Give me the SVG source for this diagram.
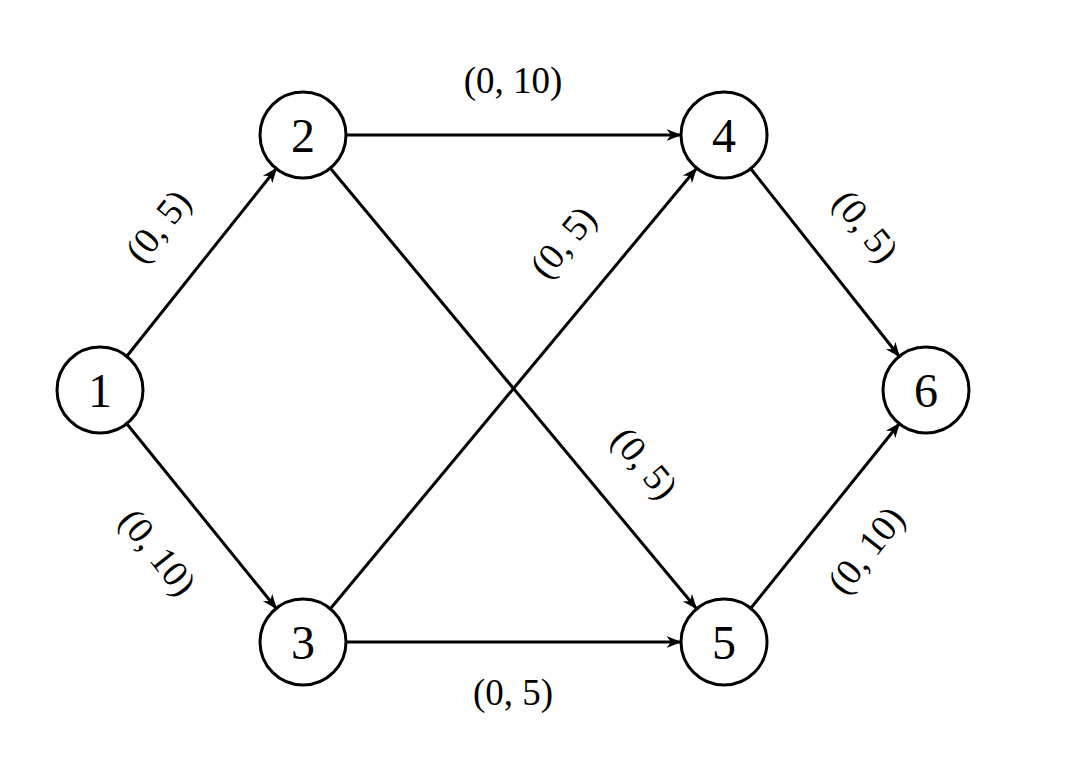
<svg xmlns="http://www.w3.org/2000/svg" width="1086" height="782" viewBox="0 0 1086 782">
<style>
circle{fill:#fff;stroke:#000;stroke-width:3}
.n{font-family:"Liberation Serif",serif;font-size:48px;text-anchor:middle;dominant-baseline:central}
.l{font-family:"Liberation Serif",serif;font-size:37px;text-anchor:middle;dominant-baseline:central}
line{stroke:#000;stroke-width:3;marker-end:url(#a)}
</style>
<defs><marker id="a" viewBox="0 0 10 10" refX="9" refY="5" markerWidth="5" markerHeight="5" orient="auto" markerUnits="strokeWidth"><path d="M0,1 L10,5 L0,9 L3,5 Z" fill="#000"/></marker></defs>
<rect width="1086" height="782" fill="#fff"/>
<g id="edges">
<line x1="127" y1="356" x2="276" y2="169"/>
<line x1="127" y1="424" x2="276" y2="608"/>
<line x1="347" y1="135" x2="680" y2="135"/>
<line x1="347" y1="642" x2="680" y2="642"/>
<line x1="331" y1="169" x2="696" y2="608"/>
<line x1="331" y1="608" x2="696" y2="169"/>
<line x1="751" y1="169" x2="899" y2="356"/>
<line x1="751" y1="608" x2="899" y2="424"/>
<text class="l" transform="translate(158,226) rotate(-51.5)">(0, 5)</text>
<text class="l" transform="translate(158,552) rotate(51.5)">(0, 10)</text>
<text class="l" x="513" y="80">(0, 10)</text>
<text class="l" x="513" y="692">(0, 5)</text>
<text class="l" transform="translate(645,463) rotate(50.3)">(0, 5)</text>
<text class="l" transform="translate(563,242) rotate(-50.3)">(0, 5)</text>
<text class="l" transform="translate(866,226) rotate(51.5)">(0, 5)</text>
<text class="l" transform="translate(866,550) rotate(-51.5)">(0, 10)</text>
</g>
<g id="n1"><circle cx="100" cy="390" r="43"/><text class="n" x="100" y="390">1</text></g>
<g id="n2"><circle cx="303" cy="135" r="43"/><text class="n" x="303" y="135">2</text></g>
<g id="n3"><circle cx="303" cy="642" r="43"/><text class="n" x="303" y="642">3</text></g>
<g id="n4"><circle cx="724" cy="135" r="43"/><text class="n" x="724" y="135">4</text></g>
<g id="n5"><circle cx="724" cy="642" r="43"/><text class="n" x="724" y="642">5</text></g>
<g id="n6"><circle cx="926" cy="390" r="43"/><text class="n" x="926" y="390">6</text></g>
</svg>
